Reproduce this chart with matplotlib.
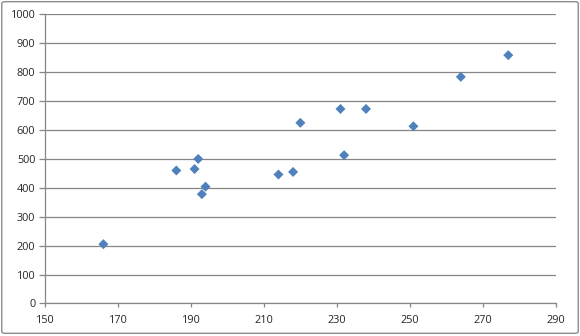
import matplotlib
matplotlib.use("Agg")
import matplotlib.pyplot as plt
from matplotlib.patches import FancyBboxPatch

# values
x_vals = [166, 186, 191, 192, 193, 194, 214, 218, 220, 231, 232, 238, 251, 264, 277]
y_vals = [205, 460, 465, 500, 378, 404, 446, 455, 625, 673, 513, 673, 613, 784, 859]

x_ticks = list(range(150, 291, 20))
y_ticks = list(range(0, 1001, 100))

plt.rcParams['font.family'] = ['Open Sans', 'DejaVu Sans']

fig = plt.figure(figsize=(5.8, 3.36), dpi=100)
ax = fig.add_axes([0.0776, 0.097, 0.8805, 0.86])

ax.scatter(x_vals, y_vals, marker='D', s=26, color='#4F81BD', edgecolors='none', zorder=3)

ax.set_xlim(150, 290)
ax.set_ylim(0, 1000)
ax.set_xticks(x_ticks)
ax.set_yticks(y_ticks)

ax.yaxis.grid(True, color='#868686', linewidth=0.9)
ax.set_axisbelow(True)

for side in ['top', 'right']:
    ax.spines[side].set_visible(False)
for side in ['left', 'bottom']:
    ax.spines[side].set_color('#868686')
    ax.spines[side].set_linewidth(0.9)

ax.tick_params(axis='both', colors='#868686', width=0.9, labelsize=7.8,
               labelcolor='#262626')
ax.tick_params(axis='x', length=3, pad=5)
ax.tick_params(axis='y', length=4, pad=3)

# outer chart border
border = FancyBboxPatch((0.003, 0.008), 0.994, 0.987, boxstyle='round,pad=0,rounding_size=0.006',
                        transform=fig.transFigure, fill=False, edgecolor='#8C8C8C', linewidth=1.0)
fig.patches.append(border)

fig.savefig('out.png', dpi=100)
